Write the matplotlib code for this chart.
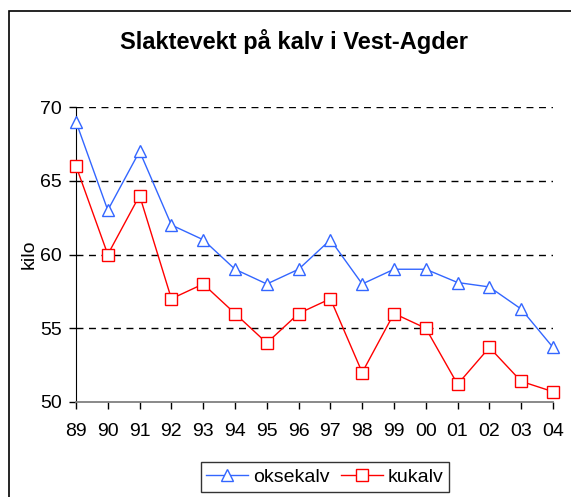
import matplotlib
matplotlib.use("Agg")
import matplotlib.pyplot as plt
from matplotlib.patches import Rectangle

plt.rcParams['font.family'] = ['Liberation Sans', 'DejaVu Sans']

years = ["89", "90", "91", "92", "93", "94", "95", "96", "97", "98", "99", "00", "01", "02", "03", "04"]
oksekalv = [69, 63, 67, 62, 61, 59, 58, 59, 61, 58, 59, 59, 58.1, 57.8, 56.3, 53.7]
kukalv = [66, 60, 64, 57, 58, 56, 54, 56, 57, 52, 56, 55, 51.2, 53.7, 51.4, 50.7]
yticks = [50, 55, 60, 65, 70]

W, H = 571, 497
fig = plt.figure(figsize=(W / 100, H / 100), dpi=100)

# outer frame
fig.patches.append(Rectangle((9 / W, -0.05), 1.1, 1 - 11 / H + 0.05, transform=fig.transFigure,
                             fill=False, edgecolor='black', linewidth=1.2))

ax = fig.add_axes([76 / W, 1 - 402 / H, 477 / W, 295 / H])
x = list(range(len(years)))
ax.plot(x, oksekalv, color='#3366FF', linewidth=1, marker='^', markersize=9,
        markerfacecolor='white', markeredgecolor='#3366FF', markeredgewidth=1,
        label='oksekalv', clip_on=False, zorder=3)
ax.plot(x, kukalv, color='#FF0000', linewidth=1, marker='s', markersize=8.3,
        markerfacecolor='white', markeredgecolor='#FF0000', markeredgewidth=1,
        label='kukalv', clip_on=False, zorder=3)

ax.set_xlim(0, len(years) - 1)
ax.set_ylim(50, 70)
ax.set_xticks(x)
ax.set_xticklabels(years, fontsize=14)
ax.set_yticks(yticks)
ax.set_yticklabels([str(v) for v in yticks], fontsize=14)
ax.tick_params(axis='both', direction='out', length=5, width=1, color='black')
ax.tick_params(axis='y', pad=5)
ax.tick_params(axis='x', pad=10)

for v in yticks[1:]:
    ax.axhline(v, color='black', linewidth=1.0, linestyle=(0, (5, 4)), zorder=1)

ax.spines['top'].set_visible(False)
ax.spines['right'].set_visible(False)
ax.spines['left'].set_color('black')
ax.spines['bottom'].set_color('#808080')
ax.spines['bottom'].set_linewidth(1.3)

ax.set_ylabel('kilo', fontsize=14, labelpad=2)

fig.text(294 / W, 1 - 41 / H, 'Slaktevekt på kalv i Vest-Agder', ha='center', va='center',
         fontsize=17, fontweight='bold')

leg = fig.legend(loc='center', bbox_to_anchor=(325 / W, 1 - 477 / H), ncol=2, fontsize=14,
                 frameon=True, fancybox=False, edgecolor='black', handlelength=2.15,
                 handletextpad=0.25, columnspacing=0.6, borderpad=0.3, borderaxespad=0)
leg.get_frame().set_linewidth(1)

fig.savefig('out.png', dpi=100)
